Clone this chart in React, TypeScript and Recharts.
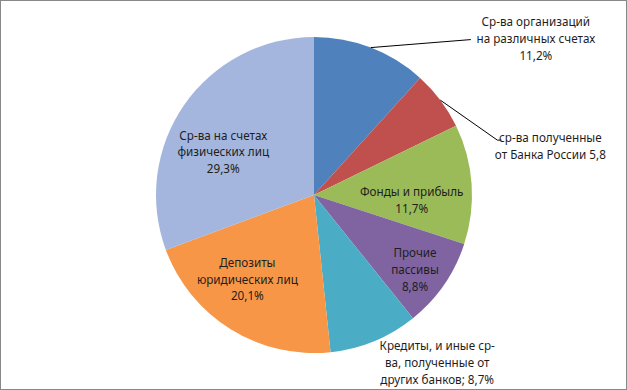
import React from 'react';
import { PieChart, Pie, Cell } from 'recharts';

const names = [
  'Ср-ва организаций на различных счетах',
  'ср-ва полученные от Банка России',
  'Фонды и прибыль',
  'Прочие пассивы',
  'Кредиты, и иные ср-ва, полученные от других банков',
  'Депозиты юридических лиц',
  'Ср-ва на счетах физических лиц',
];
const shares = [11.2, 5.8, 11.7, 8.8, 8.7, 20.1, 29.3];
const labelLines = [
  ['Ср-ва организаций', 'на различных счетах', '11,2%'],
  ['ср-ва полученные', 'от Банка России 5,8'],
  ['Фонды и прибыль', '11,7%'],
  ['Прочие', 'пассивы', '8,8%'],
  ['Кредиты, и иные ср-', 'ва, полученные от', 'других банков; 8,7%'],
  ['Депозиты', 'юридических лиц', '20,1%'],
  ['Ср-ва на счетах', 'физических лиц', '29,3%'],
];

const COLORS = ['#4f81bd', '#c0504d', '#9bbb59', '#8064a2', '#4bacc6', '#f79646', '#a4b6dd'];

// label placement: radius factor along the slice middle, then a nudge
// leader: offset of the leader line end from the slice edge (outside labels)
const placement = [
  { r: 1, leader: [100, -8], dx: 65, dy: -1 },
  { r: 1, leader: [57, 40], tail: 4, dx: 53, dy: 6 },
  { r: 0.62, dx: 0, dy: 12 },
  { r: 0.8, dx: -3, dy: 3 },
  { r: 1, dx: 63, dy: 22 },
  { r: 0.68, dx: -10, dy: -7 },
  { r: 0.63, dx: -9, dy: 14 },
];

const data = names.map((name, i) => ({ name, value: shares[i] }));

const RAD = Math.PI / 180;
const FONT = 11.7;
const LINE_H = 16.8;

const renderLabel = (props: any) => {
  const { cx, cy, midAngle, outerRadius, index } = props;
  const p = placement[index];
  const ex = cx + outerRadius * p.r * Math.cos(-midAngle * RAD);
  const ey = cy + outerRadius * p.r * Math.sin(-midAngle * RAD);
  const lines = labelLines[index];
  let tx = ex + p.dx;
  let ty = ey + p.dy;
  let leader = null;
  if (p.leader) {
    const lx = ex + p.leader[0];
    const ly = ey + p.leader[1];
    const pts = [`${ex},${ey}`, `${lx},${ly}`];
    if (p.tail) pts.push(`${lx + p.tail},${ly}`);
    leader = <polyline points={pts.join(' ')} fill="none" stroke="#000" strokeWidth={1} />;
    tx = lx + p.dx;
    ty = ly + p.dy;
  }
  const top = ty - ((lines.length - 1) * LINE_H) / 2 + FONT * 0.36;
  return (
    <g key={`lbl-${index}`}>
      {leader}
      <text
        x={tx}
        y={top}
        textAnchor="middle"
        fill="#1e1e1e"
        fontSize={FONT}
        fontFamily="'Noto Sans', sans-serif"
      >
        {lines.map((l, i) => (
          <tspan key={i} x={tx} y={top + i * LINE_H} textAnchor="middle">
            {l}
          </tspan>
        ))}
      </text>
    </g>
  );
};

export default function App() {
  return (
    <div
      style={{
        position: 'absolute',
        top: 0,
        left: 0,
        width: 627,
        height: 390,
        background: '#fff',
        boxShadow: 'inset 0 0 0 1px #888',
      }}
    >
      <PieChart width={627} height={390} margin={{ top: 0, right: 0, bottom: 0, left: 0 }}>
        <Pie
          data={data}
          dataKey="value"
          nameKey="name"
          cx={314}
          cy={195}
          outerRadius={158}
          startAngle={90}
          endAngle={-270}
          stroke="none"
          labelLine={false}
          label={renderLabel}
          isAnimationActive={false}
        >
          {data.map((entry, index) => (
            <Cell key={`cell-${index}`} fill={COLORS[index]} />
          ))}
        </Pie>
      </PieChart>
    </div>
  );
}
